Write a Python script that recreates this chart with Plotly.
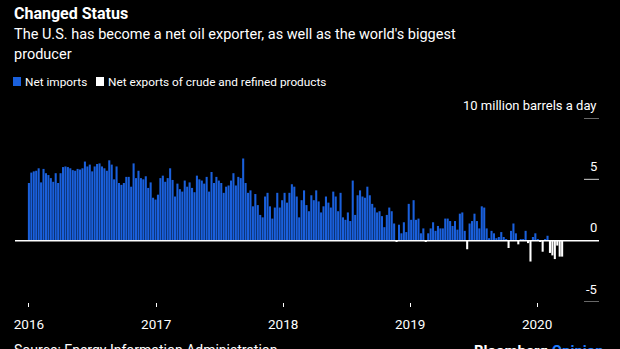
import pandas as pd
import plotly.graph_objects as go

# Weekly U.S. net imports of crude and refined products, million barrels a day
start_date = "2016-01-01"
net_2016_17 = [4.7, 5.55, 5.65, 5.7, 5.9, 4.75, 5.85, 5.5, 5.35, 5.1, 4.8, 5.5, 4.7, 5.5, 6.0, 6.05, 6.0, 5.9, 5.75, 5.7,
               5.85, 5.8, 5.9, 6.45, 6.05, 6.2, 5.65, 6.05, 6.25, 6.3, 6.05, 5.9, 5.7, 6.55, 6.2, 5.0, 6.05, 4.7, 4.55, 4.7,
               5.2, 5.2, 4.4, 6.3, 5.1, 5.7, 5.1, 5.0, 5.25, 4.3, 4.75, 3.5, 3.35, 3.75, 5.1, 5.3, 4.8, 5.1, 5.9, 4.95,
               3.6, 4.65, 4.2, 4.0, 4.9, 4.4, 4.75, 4.3, 3.95, 5.3, 5.0, 4.9, 4.65, 5.2, 4.0]
net_2017_18 = [5.6, 4.7, 5.2, 4.9, 4.7, 3.9, 4.4, 4.5, 4.9, 5.5, 4.5, 5.2, 5.1, 6.7, 4.7, 3.9, 4.1, 2.8, 3.8, 2.9,
               2.1, 1.9, 3.6, 3.9, 2.8, 1.8, 2.7, 3.9, 2.7, 3.3, 3.9, 3.1, 3.9, 4.6, 4.4, 3.6, 1.9, 3.3, 4.1, 2.9,
               2.4, 3.7, 3.3, 4.1, 3.2, 2.3, 2.8, 3.6, 3.1, 2.7, 4.0, 3.6, 2.4, 3.9, 1.9, 1.7, 2.3, 1.6, 4.9, 2.1,
               3.7, 4.1, 3.6, 3.5, 4.4, 3.7, 3.0, 2.7, 2.3, 2.4, 2.0, 1.1, 2.1, 2.7, 2.4, 1.4, -0.1, 1.3, 0.6, 1.5,
               0.7, 3.0]
net_2019 = [1.7, 3.3, 1.7, 1.8, 0.6, 1.0, -0.1, 0.6, 1.0, 1.5, 0.8, 1.2, 1.0, 1.0, 1.8]
net_2019_20 = [1.8, 1.6, 1.2, 1.6, 0.9, 2.2, 2.3, 0.8, -0.7, 1.4, 1.6, 2.2, 1.6, 1.0, 2.8, 2.7, 1.0, 0.2, 0.8, 0.6,
               0.2, 0.3, 0.7, 0.3, 0.1, -0.6, 0.8, 1.4, 0.6, -0.3, 0.1, 0.1, 0.8, -0.2, -1.7, 0.3, 0.6, 0.1, -0.05, -0.9,
               0.1, 0.4, -1.0, -1.2, -1.5, -0.4, -1.3, -1.3]
net = net_2016_17 + net_2017_18 + net_2019 + net_2019_20

year_ticks = ["2016-01-01", "2017-01-01", "2018-01-01", "2019-01-01", "2020-01-01"]
year_labels = ["2016", "2017", "2018", "2019", "2020"]
y_ticks = [10, 5, 0, -5]
y_labels = ["10 million barrels a day", "5", "0", "-5"]

dates = pd.date_range(start_date, periods=len(net), freq="7D")
imports = [v if v > 0 else None for v in net]
exports = [v if v <= 0 else None for v in net]

BLUE = "#1a60dc"
FONT = "Roboto"

fig = go.Figure()
fig.add_trace(go.Bar(x=dates, y=imports, name="Net imports", marker=dict(color=BLUE, line=dict(width=0)),
                     showlegend=False))
fig.add_trace(go.Bar(x=dates, y=exports, name="Net exports of crude and refined products",
                     marker=dict(color="#ffffff", line=dict(width=0)), showlegend=False))

W, H = 620, 349
L, R, T, B = 15, 21, 118, 47
pw, ph = W - L - R, H - T - B

def px(x):
    return (x - L) / pw

def py(y):
    return (H - B - y) / ph

shapes = []
annotations = []
for v, lab in zip(y_ticks, y_labels):
    if v != 0:
        shapes.append(dict(type="line", xref="paper", yref="y", x0=px(584), x1=1, y0=v, y1=v,
                           line=dict(color="#d0d0d0", width=1)))
    annotations.append(dict(text=lab, xref="paper", yref="y", x=1, y=v, xanchor="right", yanchor="middle",
                            yshift=13, showarrow=False, font=dict(size=13, color="#ffffff", family=FONT)))

# zero line
shapes.append(dict(type="line", xref="paper", yref="y", x0=0, x1=1, y0=0, y1=0,
                   line=dict(color="#ffffff", width=1.5)))

# Titles
annotations.append(dict(text="<b>Changed Status</b>", xref="paper", yref="paper", x=px(12), y=py(13),
                        xanchor="left", yanchor="middle", showarrow=False,
                        font=dict(size=16, color="#ffffff", family=FONT)))
sub_lines = ["The U.S. has become a net oil exporter, as well as the world's biggest", "producer"]
for i, line in enumerate(sub_lines):
    annotations.append(dict(text=line, xref="paper", yref="paper", x=px(12), y=py(34 + 20 * i),
                            xanchor="left", yanchor="middle", showarrow=False,
                            font=dict(size=14.5, color="#ffffff", family=FONT)))

# Legend
legend_items = [("Net imports", BLUE, 13), ("Net exports of crude and refined products", "#ffffff", 96)]
for name, col, x0 in legend_items:
    shapes.append(dict(type="rect", xref="paper", yref="paper", x0=px(x0), x1=px(x0 + 8), y0=py(86), y1=py(77),
                       fillcolor=col, line=dict(width=0)))
    annotations.append(dict(text=name, xref="paper", yref="paper", x=px(x0 + 10), y=py(82), xanchor="left",
                            yanchor="middle", showarrow=False, font=dict(size=11.8, color="#ffffff", family=FONT)))

# Footer
annotations.append(dict(text="Source: Energy Information Administration", xref="paper", yref="paper", x=px(12),
                        y=py(340), xanchor="left", yanchor="top", showarrow=False,
                        font=dict(size=14, color="#ffffff", family=FONT)))
annotations.append(dict(text="<b>Bloomberg</b> <b><span style='color:#1f7bff'>Opinion</span></b>", xref="paper",
                        yref="paper", x=px(472), y=py(340), xanchor="left", yanchor="top", showarrow=False,
                        font=dict(size=15, color="#ffffff", family=FONT)))

fig.update_layout(
    width=W, height=H,
    margin=dict(l=L, r=R, t=T, b=B),
    paper_bgcolor="#000000", plot_bgcolor="#000000",
    barmode="overlay", bargap=0.15,
    shapes=shapes, annotations=annotations,
    xaxis=dict(type="date", range=["2015-11-22", "2020-06-27"], tickvals=year_ticks, ticktext=year_labels,
               ticks="outside", ticklen=4, tickwidth=1, tickcolor="#ffffff", showgrid=False, zeroline=False,
               showline=False, tickfont=dict(size=13.5, color="#ffffff", family=FONT), ticklabelstandoff=6),
    yaxis=dict(range=[-5, 10], showgrid=False, zeroline=False, showticklabels=False, ticks=""),
    font=dict(family=FONT),
)

fig.write_html("out.html")
